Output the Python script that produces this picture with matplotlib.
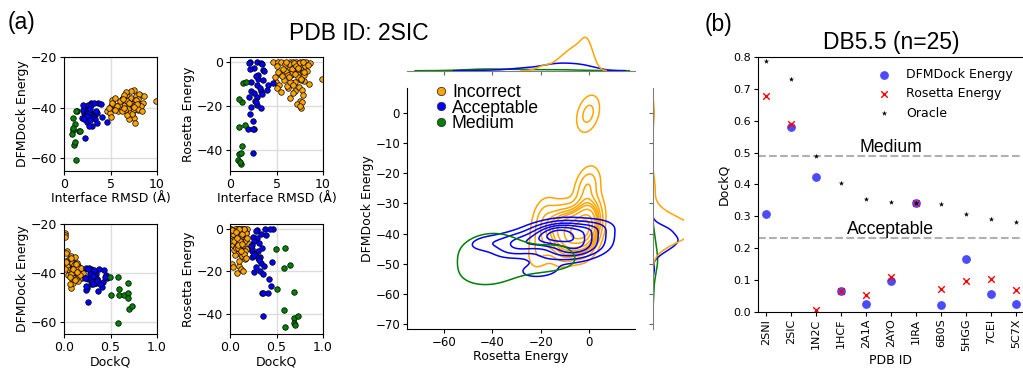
import matplotlib
matplotlib.use("Agg")
import matplotlib.pyplot as plt
import numpy as np
import pandas as pd
import seaborn as sns
from matplotlib.lines import Line2D
from matplotlib.colors import to_hex

# ---- panel (a): decoys of 2SIC, per class: interface RMSD, DockQ, DFMDock energy, Rosetta energy
inc_irmsd = [4.6, 5.2, 5.5, 6.4, 6.8, 7.1, 7.5, 7.9, 8.2, 9.9, 5.0, 5.4, 5.8, 6.0, 6.2, 6.5, 6.6, 6.9,
             7.0, 7.2, 7.3, 7.4, 7.5, 7.6, 7.7, 7.8, 7.9, 8.0, 8.1, 8.5, 7.2, 6.1, 4.9, 5.6, 6.3, 7.0,
             7.4, 7.8, 8.0, 6.7, 5.3, 6.9, 7.6, 8.3, 7.1, 6.4, 7.7, 5.9, 6.6, 7.3, 8.6, 4.8, 5.1, 7.0,
             6.8, 12.5, 13.0, 13.8, 12.0, 15.0, 16.0, 11.5,
             5.7, 6.2, 6.5, 7.0, 7.3, 7.6, 8.0, 6.0, 6.8, 5.5, 7.9, 6.3, 7.5, 8.4, 5.2]
inc_dockq = [0.18, 0.15, 0.14, 0.12, 0.10, 0.09, 0.08, 0.06, 0.05, 0.03, 0.17, 0.16, 0.13, 0.12, 0.11,
             0.13, 0.10, 0.11, 0.08, 0.07, 0.09, 0.06, 0.10, 0.07, 0.05, 0.08, 0.04, 0.06, 0.05, 0.04,
             0.12, 0.14, 0.19, 0.11, 0.09, 0.13, 0.15, 0.10, 0.12, 0.08, 0.16, 0.14, 0.11, 0.07, 0.17,
             0.02, 0.03, 0.05, 0.04, 0.01, 0.02, 0.20, 0.15, 0.06, 0.16, 0.01, 0.01, 0.015, 0.03, 0.0,
             0.0, 0.02,
             0.12, 0.10, 0.09, 0.11, 0.13, 0.09, 0.08, 0.15, 0.12, 0.17, 0.10, 0.13, 0.14, 0.06, 0.18]
inc_dfm = [-41.5, -37.0, -36.0, -38.0, -35.5, -37.5, -33.0, -39.0, -35.0, -37.5, -39.5, -40.5, -41.5,
           -38.5, -36.5, -39.0, -41.0, -37.0, -40.5, -36.0, -42.5, -38.5, -44.0, -46.0, -35.5, -40.0,
           -37.0, -41.0, -34.5, -38.0, -33.5, -37.5, -42.0, -40.0, -36.0, -39.5, -41.0, -38.0, -36.5,
           -34.0, -38.5, -40.5, -36.8, -39.5, -42.0, -35.0, -37.0, -39.0, -41.0, -38.5, -35.5, -40.0,
           -43.5, -44.5, -37.5, -23.5, -24.5, -25.5, -31.0, 0.5, -1.0, -32.0,
           -39.5, -41.5, -40.0, -38.0, -42.5, -39.0, -40.5, -37.5, -43.0, -41.0, -38.5, -36.5, -39.8,
           -41.5, -38.0]
inc_ros = [0.0, 0.0, 0.0, 0.0, 0.0, 0.0, 0.0, 0.0, 0.0, -7.8, -2.0, -5.5, -8.0, -4.0, -12.0, -2.5, -6.0,
           -9.5, -3.5, -5.0, -7.0, -11.5, -17.5, -21.0, -12.5, -1.5, -4.5, -8.5, -2.0, -10.0, -19.0,
           -11.0, -9.0, -6.5, -1.0, -13.0, -0.5, -15.0, -6.0, -3.0, -10.5, -0.2, -8.0, -4.0, -2.0,
           -16.5, -18.0, -1.0, -5.5, -3.0, -0.5, -7.0, -12.0, -9.0, -14.0, -0.5, -1.5, 0.0, -2.5, 0.0,
           -0.8, -0.3,
           -3.0, -6.0, -9.0, -5.5, -2.5, -7.5, -4.5, 0.0, -10.5, -13.5, 0.0, -7.0, -20.0, -1.5, -4.5]

acc_irmsd = [2.1, 2.9, 3.3, 2.6, 3.6, 3.7, 3.0, 3.0, 2.3, 2.9, 4.1, 4.6, 2.25, 2.6, 3.3, 2.95, 2.0, 2.3,
             2.9, 3.3, 2.1, 2.5, 1.95, 2.6, 2.5, 2.5, 3.4, 2.8, 3.2, 2.7, 3.5, 2.2, 2.75, 3.4, 2.0, 4.0]
acc_dockq = [0.46, 0.38, 0.29, 0.33, 0.25, 0.29, 0.26, 0.24, 0.34, 0.24, 0.30, 0.24, 0.32, 0.30, 0.24,
             0.33, 0.45, 0.26, 0.32, 0.35, 0.42, 0.44, 0.34, 0.36, 0.41, 0.36, 0.28, 0.31, 0.27, 0.37,
             0.23, 0.39, 0.28, 0.31, 0.43, 0.26]
acc_dfm = [-42.0, -38.5, -44.5, -40.0, -46.0, -38.3, -42.5, -47.2, -40.5, -38.0, -43.5, -45.5, -41.0,
           -38.8, -42.2, -44.0, -40.8, -52.1, -39.0, -42.6, -43.8, -41.5, -44.2, -42.3, -45.6, -43.2,
           -41.8, -44.7, -38.2, -47.3, -42.0, -44.4, -40.5, -41.2, -38.9, -38.4]
acc_ros = [0.0, 0.0, -0.5, -2.6, -3.6, -4.1, -5.9, -7.7, -8.9, -10.2, -10.5, -9.7, -13.3, -13.9, -13.2,
           -15.9, -15.8, -20.3, -19.7, -21.1, -23.5, -27.0, -30.3, -30.2, -30.2, -41.2, -1.0, -6.5,
           -12.0, -17.5, -8.0, -3.0, -18.0, -14.5, -0.2, -12.5]

med_irmsd = [1.35, 1.6, 1.25, 1.3, 1.7, 1.15, 1.0, 1.0, 0.95, 0.9, 1.05, 1.2]
med_dockq = [0.49, 0.51, 0.58, 0.58, 0.59, 0.59, 0.65, 0.69, 0.69, 0.69, 0.70, 0.73]
med_dfm = [-41.5, -49.1, -60.7, -41.5, -49.1, -46.4, -49.0, -48.1, -44.2, -50.2, -54.6, -53.4]
med_ros = [-9.5, -28.5, -18.3, -38.0, -9.1, -46.2, -17.0, -29.5, -41.8, -44.4, -45.2, -41.2]

class_names = ["Incorrect", "Acceptable", "Medium"]
class_colors = ["orange", "blue", "green"]

# ---- panel (b): DB5.5 top-1 DockQ per target
pdb_ids = ["2SNI", "2SIC", "1N2C", "1HCF", "2A1A", "2AYO", "1IRA", "6B0S", "5HGG", "7CEI", "5C7X"]
dfmdock_dockq = [0.307, 0.580, 0.422, 0.065, 0.024, 0.095, 0.342, 0.020, 0.166, 0.057, 0.023]
rosetta_dockq = [0.679, 0.591, 0.006, 0.066, 0.051, 0.109, 0.342, 0.070, 0.095, 0.102, 0.069]
oracle_dockq = [0.786, 0.730, 0.490, 0.403, 0.353, 0.344, 0.342, 0.337, 0.306, 0.290, 0.282]
thresholds = [0.49, 0.23]
threshold_names = ["Medium", "Acceptable"]

data = {
    "Incorrect": dict(irmsd=inc_irmsd, dockq=inc_dockq, dfm=inc_dfm, ros=inc_ros),
    "Acceptable": dict(irmsd=acc_irmsd, dockq=acc_dockq, dfm=acc_dfm, ros=acc_ros),
    "Medium": dict(irmsd=med_irmsd, dockq=med_dockq, dfm=med_dfm, ros=med_ros),
}
df = pd.concat([pd.DataFrame({"Rosetta": data[n]["ros"], "DFMDock": data[n]["dfm"], "label": n})
                for n in class_names], ignore_index=True)
palette = dict(zip(class_names, class_colors))

W, H = 1023, 369
fig = plt.figure(figsize=(W / 100, H / 100), dpi=100)
ARIAL = "Liberation Sans"


def add_ax(x0, y0, x1, y1):
    return fig.add_axes([x0 / W, 1 - y1 / H, (x1 - x0) / W, (y1 - y0) / H])


# small scatter panels
panels = [((64, 57, 157, 171), "irmsd", "dfm"), ((230, 57, 323, 171), "irmsd", "ros"),
          ((64, 224, 157, 334), "dockq", "dfm"), ((230, 224, 323, 334), "dockq", "ros")]
xlabels = {"irmsd": "Interface RMSD (Å)", "dockq": "DockQ"}
ylabels = {"dfm": "DFMDock Energy", "ros": "Rosetta Energy"}
for box, xk, yk in panels:
    ax = add_ax(*box)
    for name, col in zip(class_names, class_colors):
        ax.scatter(data[name][xk], data[name][yk], s=16, c=col, edgecolors="k", linewidths=0.5)
    ax.set_axisbelow(True)
    ax.grid(True, color="#dddddd", lw=1.0)
    if xk == "irmsd":
        ax.set_xlim(0, 10)
        ax.set_xticks([0, 5, 10])
    else:
        ax.set_xlim(0, 1)
        ax.set_xticks([0, 0.5, 1.0])
    if yk == "dfm":
        ax.set_ylim(-65, -20)
        ax.set_yticks([-60, -40, -20])
    else:
        ax.set_ylim(-49.5, 2.3)
        ax.set_yticks([-40, -20, 0])
    ax.set_xlabel(xlabels[xk], fontsize=9, labelpad=1)
    ax.set_ylabel(ylabels[yk], fontsize=9, labelpad=1)
    ax.tick_params(labelsize=9, length=3, pad=2)

# joint KDE plot
axj = add_ax(407, 88, 635, 329)
axt = add_ax(407, 35.6, 635, 70.7)
axr = add_ax(652.7, 88, 684, 329)
sns.kdeplot(data=df, x="Rosetta", y="DFMDock", hue="label", hue_order=class_names,
            palette=palette, ax=axj, legend=False, linewidths=1.1)
sns.kdeplot(data=df, x="Rosetta", hue="label", hue_order=class_names, palette=palette,
            ax=axt, legend=False, linewidth=1.1)
sns.kdeplot(data=df, y="DFMDock", hue="label", hue_order=class_names, palette=palette,
            ax=axr, legend=False, linewidth=1.1)
axj.set_xlim(-75.3, 19)
axj.set_ylim(-71.7, 8.3)
axj.set_xticks([-60, -40, -20, 0])
axj.set_yticks(np.arange(-70, 1, 10))
axj.spines[["top", "right"]].set_visible(False)
axj.set_xlabel("Rosetta Energy", fontsize=9, labelpad=1)
axj.set_ylabel("DFMDock Energy", fontsize=9, labelpad=1)
axj.tick_params(labelsize=8.5, length=3, pad=2)
handles = [Line2D([], [], ls="", marker="o", ms=6, mfc=c, mec="#333333", mew=0.6) for c in class_colors]
axj.legend(handles, class_names, loc="upper left", bbox_to_anchor=(436 / W, 1 - 84 / H),
           bbox_transform=fig.transFigure, frameon=False, borderpad=0, borderaxespad=0,
           handlelength=0.6, handletextpad=0.3, labelspacing=-0.08,
           prop={"family": ARIAL, "size": 12.7})

axt.set_xlim(axj.get_xlim())
axt.set_ylim(0, None)
axt.set_xticks([-60, -40, -20, 0])
axt.set_xticklabels([])
axt.set_yticks([])
axt.set_xlabel("")
axt.set_ylabel("")
for s in ["top", "right", "left"]:
    axt.spines[s].set_visible(False)
axt.spines["bottom"].set_color("0.5")
axt.tick_params(colors="0.4", length=3)
axt.patch.set_alpha(0)

axr.set_ylim(axj.get_ylim())
blue_peak = max(np.max(l.get_xdata()) for l in axr.lines if to_hex(l.get_color()) == "#0000ff")
axr.set_xlim(0, blue_peak / 0.81)
axr.set_yticks(np.arange(-70, 1, 10))
axr.set_yticklabels([])
axr.set_xticks([])
axr.set_xlabel("")
axr.set_ylabel("")
for s in ["top", "right", "bottom"]:
    axr.spines[s].set_visible(False)
axr.spines["left"].set_color("0.5")
axr.tick_params(colors="0.4", length=3)
axr.patch.set_alpha(0)

# panel (b)
axb = add_ax(757.7, 57, 1024, 311.7)
axb.scatter(pdb_ids, dfmdock_dockq, s=40, c="blue", alpha=0.7, linewidths=0, label="DFMDock Energy")
axb.scatter(pdb_ids, rosetta_dockq, s=22, c="red", marker="x", linewidths=1.0, label="Rosetta Energy")
axb.scatter(pdb_ids, oracle_dockq, s=16, c="black", marker="*", linewidths=0, label="Oracle")
for t, name in zip(thresholds, threshold_names):
    axb.axhline(t, ls="--", color="#b0b0b0", lw=1.5, zorder=0)
    axb.text(5, t, name, ha="center", va="bottom", fontsize=12.7, family=ARIAL)
axb.set_xlim(-0.33, 10.33)
axb.set_ylim(0, 0.8)
axb.set_yticks(np.arange(0, 0.81, 0.1))
axb.tick_params(axis="x", rotation=90)
axb.tick_params(labelsize=8, length=3, pad=2)
axb.set_xlabel("PDB ID", fontsize=9, labelpad=2)
axb.set_ylabel("DockQ", fontsize=9, labelpad=2)
axb.set_title("DB5.5 (n=25)", fontsize=16.5, family=ARIAL)
axb.legend(loc="upper right", frameon=False, fontsize=9)

fig.text(358.5 / W, 1 - 40 / H, "PDB ID: 2SIC", ha="center", va="baseline", fontsize=16.5, family=ARIAL)
fig.text(8 / W, 1 - 29.5 / H, "(a)", ha="left", va="baseline", fontsize=16.5, family=ARIAL)
fig.text(705 / W, 1 - 30.5 / H, "(b)", ha="left", va="baseline", fontsize=16.5, family=ARIAL)

fig.savefig("out.png", dpi=100)
